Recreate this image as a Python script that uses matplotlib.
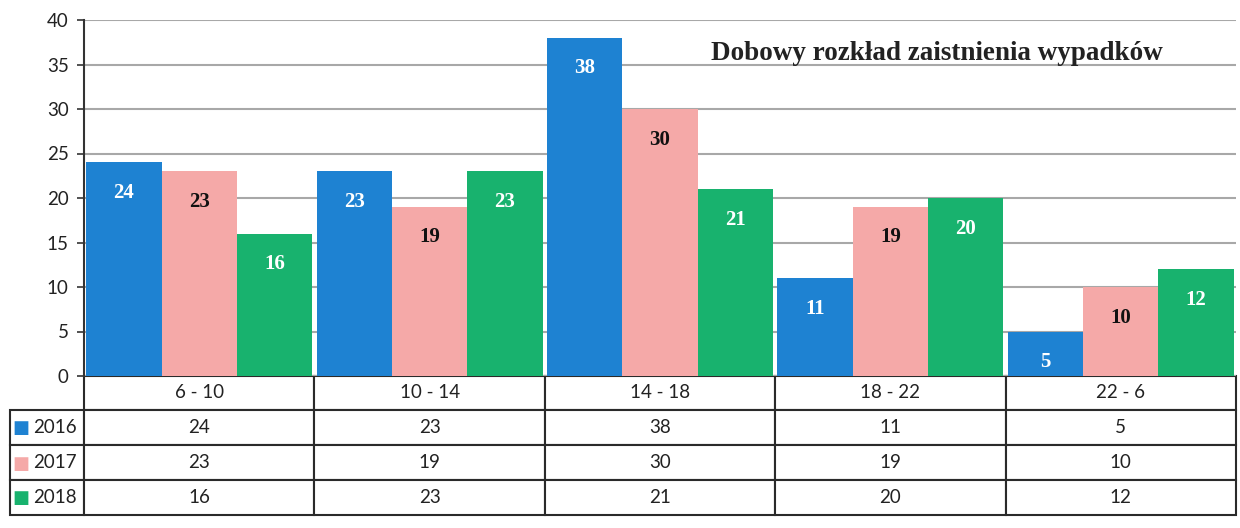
import numpy as np
import matplotlib
matplotlib.use("Agg")
import matplotlib.pyplot as plt
from matplotlib.table import Table

periods = ["6 - 10", "10 - 14", "14 - 18", "18 - 22", "22 - 6"]
years = ["2016", "2017", "2018"]
v2016 = [24, 23, 38, 11, 5]
v2017 = [23, 19, 30, 19, 10]
v2018 = [16, 23, 21, 20, 12]
series = [v2016, v2017, v2018]
colors = ["#1e82d2", "#f5a9a8", "#18b26e"]
label_colors = ["white", "#111111", "white"]

fig = plt.figure(figsize=(12.4, 5.28), dpi=100)
ax = fig.add_axes([84 / 1240, 1 - 376 / 528, 1152 / 1240, 356 / 528])

x = np.arange(len(periods))
w = 0.327
for i, vals in enumerate(series):
    bars = ax.bar(x + (i - 1) * w, vals, width=w, color=colors[i], zorder=2)
    for b, v in zip(bars, vals):
        ax.annotate(str(v), (b.get_x() + b.get_width() / 2, v), xytext=(0, -22),
                    textcoords="offset points", ha="center", va="center",
                    fontsize=15, fontweight="bold", family="Liberation Serif",
                    color=label_colors[i], zorder=3)

ax.set_xlim(-0.5, len(periods) - 0.5)
ax.set_ylim(0, 40)
ax.set_yticks(range(0, 41, 5))
ax.set_xticks([])
ax.yaxis.grid(True, color="#a8a8a8", linewidth=1.5, zorder=0)
ax.set_axisbelow(True)
for s in ["top", "right", "bottom"]:
    ax.spines[s].set_visible(False)
ax.spines["left"].set_color("#333333")
ax.spines["left"].set_linewidth(1.5)
ax.tick_params(axis="y", length=5, width=1.2, color="#333333", labelsize=13.5,
               labelcolor="#222222", pad=6)
for t in ax.get_yticklabels():
    t.set_family("Lato")

ax.text(0.74, 0.905, "Dobowy rozkład zaistnienia wypadków", transform=ax.transAxes,
        ha="center", va="center", fontsize=19.5, fontweight="bold",
        family="Liberation Serif", color="#222222")

# data table below the plot
lw = 74 / 1152
h = 139 / 356
tb = Table(ax, bbox=[-lw, -h, 1 + lw, h])
c = tb.add_cell(0, 0, width=74, height=34, text="")
c.visible_edges = ""
for j, p in enumerate(periods):
    tb.add_cell(0, j + 1, width=230.4, height=34, text=p, loc="center")
for r, (yr, vals) in enumerate(zip(years, series)):
    tb.add_cell(r + 1, 0, width=74, height=35, text=yr, loc="right")
    for j, v in enumerate(vals):
        tb.add_cell(r + 1, j + 1, width=230.4, height=35, text=str(v), loc="center")
tb.auto_set_font_size(False)
tb.set_fontsize(13.5)
for cell in tb.get_celld().values():
    cell.set_edgecolor("#2a2a2a")
    cell.set_linewidth(1.5)
    cell.get_text().set_family("Lato")
    cell.get_text().set_color("#222222")
ax.add_table(tb)

# legend swatches in the row-label column
row_y = [-0.146, -0.247, -0.343]
for i, yy in enumerate(row_y):
    ax.text(-0.0545, yy, "■", transform=ax.transAxes, ha="center", va="center",
            fontsize=13, color=colors[i], family="DejaVu Sans", clip_on=False)

fig.savefig("out.png", dpi=100, facecolor="white")
